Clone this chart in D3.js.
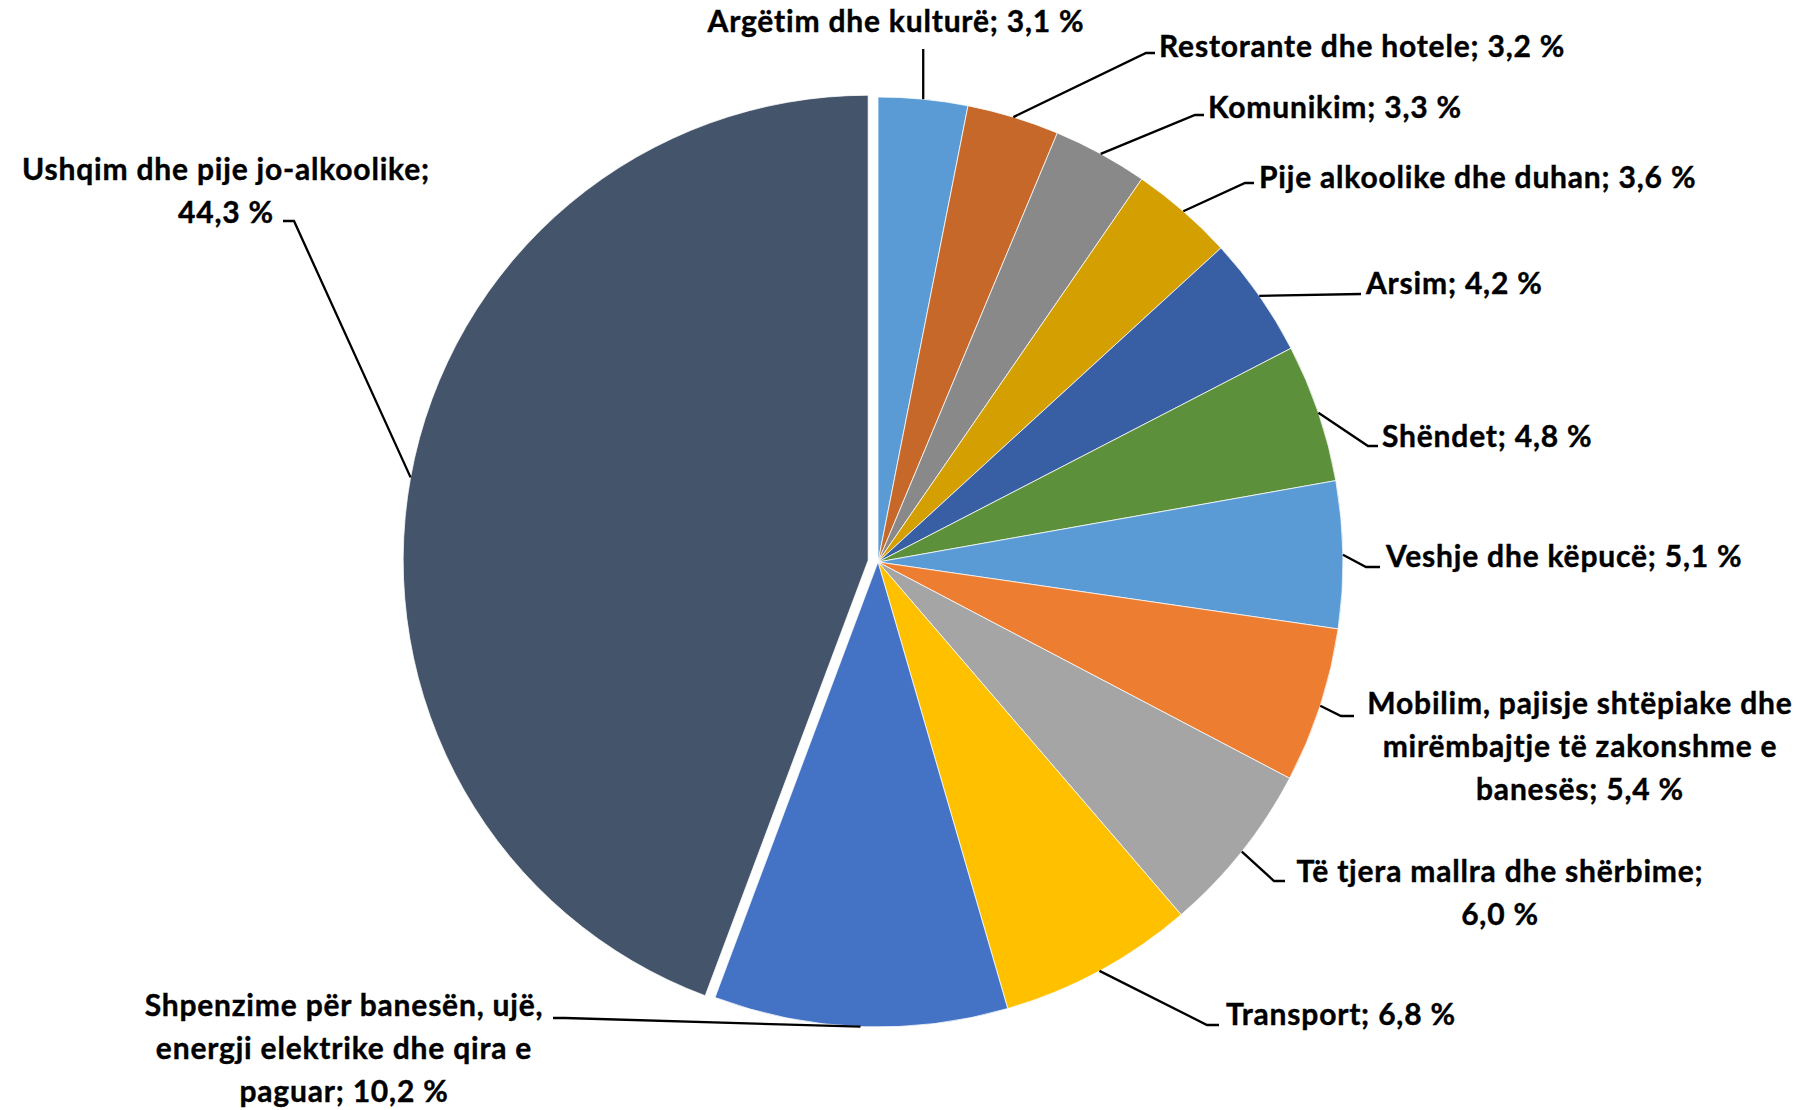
<!DOCTYPE html>
<html>
<head>
<meta charset="utf-8">
<script src="https://cdn.jsdelivr.net/npm/d3@7/dist/d3.min.js"></script>
<style>
  html, body { margin: 0; padding: 0; background: #fff; }
  svg { display: block; }
  text { font-family: Lato, "Open Sans", sans-serif; font-weight: 700; fill: #000; stroke: #000; stroke-width: 0.4px; }
</style>
</head>
<body>
<svg id="chart" width="1808" height="1110"></svg>
<script>
// ---- data ----
const categories = [
  "Argëtim dhe kulturë",
  "Restorante dhe hotele",
  "Komunikim",
  "Pije alkoolike dhe duhan",
  "Arsim",
  "Shëndet",
  "Veshje dhe këpucë",
  "Mobilim, pajisje shtëpiake dhe mirëmbajtje të zakonshme e banesës",
  "Të tjera mallra dhe shërbime",
  "Transport",
  "Shpenzime për banesën, ujë, energji elektrike dhe qira e paguar",
  "Ushqim dhe pije jo-alkoolike"
];
const values = [3.1, 3.2, 3.3, 3.6, 4.2, 4.8, 5.1, 5.4, 6.0, 6.8, 10.2, 44.3];
const valueLabels = ["3,1 %", "3,2 %", "3,3 %", "3,6 %", "4,2 %", "4,8 %", "5,1 %", "5,4 %", "6,0 %", "6,8 %", "10,2 %", "44,3 %"];
// label text broken into lines as in the original
const labelLines = [
  ["Argëtim dhe kulturë; 3,1 %"],
  ["Restorante dhe hotele; 3,2 %"],
  ["Komunikim; 3,3 %"],
  ["Pije alkoolike dhe duhan; 3,6 %"],
  ["Arsim; 4,2 %"],
  ["Shëndet; 4,8 %"],
  ["Veshje dhe këpucë; 5,1 %"],
  ["Mobilim, pajisje shtëpiake dhe", "mirëmbajtje të zakonshme e", "banesës; 5,4 %"],
  ["Të tjera mallra dhe shërbime;", "6,0 %"],
  ["Transport; 6,8 %"],
  ["Shpenzime për banesën, ujë,", "energji elektrike dhe qira e", "paguar; 10,2 %"],
  ["Ushqim dhe pije jo-alkoolike;", "44,3 %"]
];
const explodedIndex = [11];

// ---- styles / layout ----
const colors = ["#5B9BD5", "#C56829", "#898989", "#D49F00", "#385FA3", "#5D903B",
                "#5B9BD5", "#ED7D31", "#A5A5A5", "#FFC000", "#4472C4", "#44546A"];
const cx = 878, cy = 562, R = 465, explode = 10;
const fontSize = 30, letterSpacing = 0.8, lineH = 43;
// label placement: text anchor point (first baseline), leader elbow and end
const labelLayout = [
  { x: 896,  y: 32,   anchor: "middle", elbow: null,        end: [null, 49] },
  { x: 1159, y: 57,   anchor: "start",  elbow: [1146, 53],  end: [1155, 53] },
  { x: 1208, y: 118,  anchor: "start",  elbow: [1195, 115], end: [1204, 115] },
  { x: 1259, y: 188,  anchor: "start",  elbow: [1245, 183], end: [1254, 183] },
  { x: 1366, y: 294,  anchor: "start",  elbow: null,        end: [1361, 294] },
  { x: 1382, y: 447,  anchor: "start",  elbow: [1368, 446], end: [1378, 446] },
  { x: 1386, y: 567,  anchor: "start",  elbow: [1366, 567], end: [1380, 567] },
  { x: 1580, y: 714,  anchor: "middle", elbow: [1341, 716], end: [1354, 716] },
  { x: 1500, y: 882,  anchor: "middle", elbow: [1274, 881], end: [1285, 881] },
  { x: 1226, y: 1025, anchor: "start",  elbow: [1207, 1025], end: [1219, 1025] },
  { x: 344,  y: 1016, anchor: "middle", elbow: [565, 1018], end: [553, 1018] },
  { x: 226,  y: 180,  anchor: "middle", elbow: [294, 221],  end: [283, 221] }
];

const svg = d3.select("#chart");
const g = svg.append("g").attr("transform", `translate(${cx},${cy})`);

const pie = d3.pie().sort(null).value(d => d).startAngle(0).endAngle(2 * Math.PI);
const arcs = pie(values);
const arc = d3.arc().innerRadius(0).outerRadius(R);

function offsetOf(i, a) {
  if (!explodedIndex.includes(i)) return [0, 0];
  const m = (a.startAngle + a.endAngle) / 2;
  return [Math.sin(m) * explode, -Math.cos(m) * explode];
}

g.selectAll("path.slice")
  .data(arcs)
  .join("path")
  .attr("class", "slice")
  .attr("d", arc)
  .attr("transform", (d, i) => { const o = offsetOf(i, d); return `translate(${o[0]},${o[1]})`; })
  .attr("fill", (d, i) => colors[i])
  .attr("stroke", "#fff")
  .attr("stroke-width", 0.75);

// leader lines
const leaders = svg.append("g");
arcs.forEach((a, i) => {
  const m = (a.startAngle + a.endAngle) / 2;
  const o = offsetOf(i, a);
  const sx = cx + o[0] + Math.sin(m) * R;
  const sy = cy + o[1] - Math.cos(m) * R;
  const L = labelLayout[i];
  const pts = [[sx, sy]];
  if (L.elbow) pts.push(L.elbow);
  pts.push([L.end[0] == null ? sx : L.end[0], L.end[1]]);
  leaders.append("path")
    .attr("d", d3.line()(pts))
    .attr("fill", "none")
    .attr("stroke", "#000")
    .attr("stroke-width", 2.3);
});

// labels
const labels = svg.append("g");
labelLines.forEach((lines, i) => {
  const L = labelLayout[i];
  const t = labels.append("text")
    .attr("x", L.x)
    .attr("y", L.y)
    .attr("text-anchor", L.anchor)
    .attr("font-size", fontSize)
    .attr("letter-spacing", letterSpacing);
  lines.forEach((ln, k) => {
    t.append("tspan").attr("x", L.x).attr("y", L.y + k * lineH).text(ln);
  });
});
</script>
</body>
</html>
